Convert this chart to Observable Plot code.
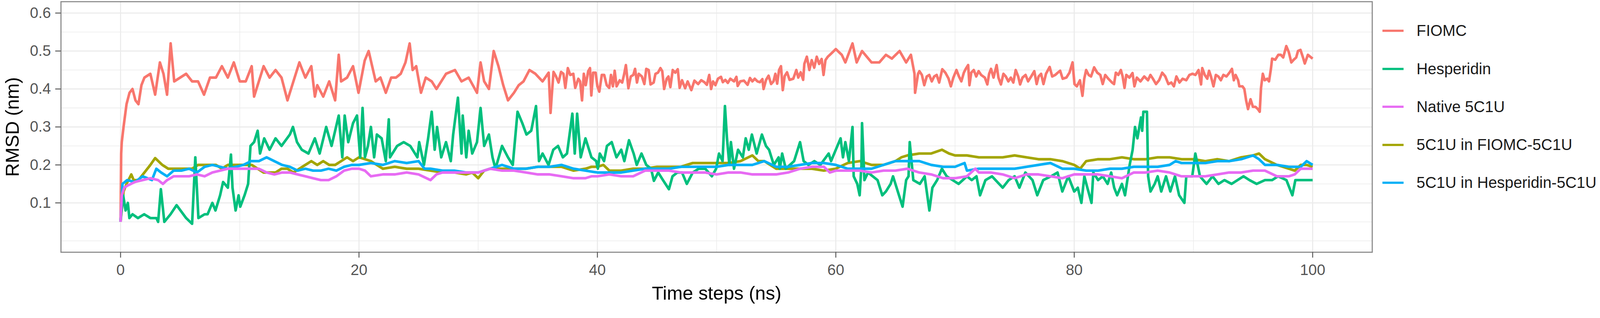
<!DOCTYPE html>
<html><head><meta charset="utf-8">
<script src="https://cdn.jsdelivr.net/npm/d3@7"></script>
<script src="https://cdn.jsdelivr.net/npm/@observablehq/plot@0.6"></script>
<style>
html,body{margin:0;padding:0;background:#fff;overflow:hidden;}
#wrap{position:relative;width:4317px;height:814px;font-family:"Liberation Sans",Arial,sans-serif;background:#fff;transform-origin:0 0;}
#wrap svg{display:block;max-width:none;}
#legend{position:absolute;left:3730px;top:0;}
.item{position:absolute;left:0;height:0;white-space:nowrap}
.key{position:absolute;left:0;width:57px;height:6px;top:-3px}
.lab{position:absolute;left:92px;top:-25px;font-size:42px;color:#1a1a1a;line-height:50px}
[aria-label="x-axis label"] text,[aria-label="y-axis label"] text{fill:#000;font-size:51px}
</style>
</head><body>
<div id="wrap"><div id="legend"></div></div>
<script>
// ---------- data ----------
const seriesNames = ["FIOMC","5C1U in FIOMC-5C1U","Hesperidin","5C1U in Hesperidin-5C1U","Native 5C1U"];
const legendOrder = ["FIOMC","Hesperidin","Native 5C1U","5C1U in FIOMC-5C1U","5C1U in Hesperidin-5C1U"];
const seriesColors = ["#F8766D","#A3A500","#00BF7D","#00B0F6","#E76BF3"];
const xMajor = [0,20,40,60,80,100];
const xMinor = [10,30,50,70,90];
const yMajor = [0.1,0.2,0.3,0.4,0.5,0.6];
const yMinor = [0,0.05,0.15,0.25,0.35,0.45,0.55];

const fiomc = [[0,0.05],[0.05,0.23],[0.1,0.26],[0.25,0.30],[0.5,0.36],[0.75,0.39],[1,0.40],[1.25,0.37],[1.5,0.36],[1.75,0.41],[2,0.43],[2.5,0.44],[2.9,0.385],[3.3,0.47],[3.6,0.44],[3.9,0.385],[4.2,0.52],[4.5,0.42],[5,0.43],[5.5,0.44],[6,0.42],[6.5,0.42],[7,0.385],[7.5,0.43],[8,0.43],[8.5,0.46],[9,0.43],[9.5,0.47],[10,0.42],[10.5,0.42],[11,0.46],[11.2,0.38],[11.5,0.41],[12,0.46],[12.5,0.43],[13,0.45],[13.5,0.43],[14,0.37],[14.5,0.42],[15,0.47],[15.5,0.43],[16,0.46],[16.3,0.38],[16.5,0.41],[17,0.38],[17.5,0.42],[18,0.37],[18.3,0.49],[18.5,0.42],[19,0.43],[19.5,0.46],[19.96,0.39],
[20.48,0.475],[20.81,0.50],[21.4,0.42],[21.8,0.43],[22.25,0.39],[22.7,0.43],[23.1,0.43],[23.5,0.44],[23.9,0.47],[24.25,0.52],[24.5,0.45],[24.8,0.46],[25.2,0.39],[25.6,0.43],[26.1,0.42],[26.5,0.40],[27.3,0.44],[28.05,0.45],[28.6,0.42],[29.2,0.43],[29.9,0.39],[30.2,0.47],[30.5,0.42],[30.9,0.40],[31.3,0.50],[31.7,0.46],[32.1,0.41],[32.5,0.37],[33.0,0.39],[33.4,0.41],[33.8,0.42],[34.3,0.45],[34.8,0.44],[35.4,0.42],
[35.91,0.443],[36.07,0.337],[36.17,0.383],[36.32,0.445],[36.53,0.433],[36.74,0.417],[36.95,0.445],[37.15,0.44],[37.31,0.403],[37.52,0.455],[37.72,0.437],[37.98,0.44],[38.14,0.403],[38.4,0.427],[38.55,0.42],[38.71,0.37],[38.86,0.44],[39.02,0.41],[39.23,0.447],[39.38,0.455],[39.49,0.383],[39.64,0.443],[39.85,0.443],[40.0,0.407],[40.16,0.393],[40.37,0.437],[40.57,0.437],[40.78,0.41],[40.99,0.403],[41.14,0.437],[41.3,0.407],[41.45,0.448],[41.61,0.407],[41.87,0.423],[42.08,0.417],[42.23,0.437],[42.39,0.463],[42.6,0.402],[42.8,0.433],[43.01,0.437],[43.16,0.453],[43.32,0.417],[43.47,0.44],[43.73,0.433],[43.94,0.413],[44.1,0.453],[44.3,0.45],[44.46,0.412],[44.72,0.417],[44.87,0.44],[45.08,0.443],[45.29,0.455],[45.44,0.447],[45.6,0.40],[45.81,0.427],[45.96,0.433],[46.12,0.405],[46.32,0.45],[46.53,0.443],[46.74,0.452],[46.9,0.403],[47.1,0.423],[47.36,0.402],[47.57,0.42],[47.88,0.397],[48.14,0.422],[48.45,0.413],[48.71,0.423],
[48.97,0.418],[49.18,0.411],[49.38,0.437],[49.54,0.40],[49.7,0.42],[49.9,0.41],[50.11,0.427],[50.37,0.432],[50.52,0.418],[50.73,0.424],[50.94,0.416],[51.15,0.427],[51.46,0.42],[51.66,0.432],[51.77,0.408],[51.98,0.42],[52.29,0.422],[52.6,0.411],[52.8,0.429],[53.0,0.42],[53.2,0.427],[53.43,0.42],[53.63,0.418],[53.84,0.426],[53.94,0.40],[54.15,0.424],[54.36,0.435],[54.57,0.413],[54.77,0.42],[54.93,0.44],[55.08,0.414],[55.24,0.45],[55.4,0.46],[55.55,0.397],[55.71,0.434],[55.91,0.444],[56.12,0.424],[56.43,0.427],[56.69,0.45],[56.85,0.43],[57.05,0.444],[57.26,0.424],[57.36,0.466],[57.57,0.485],[57.78,0.45],[57.98,0.476],[58.19,0.456],[58.4,0.485],[58.6,0.466],[58.81,0.479],[58.97,0.437],[59.13,0.476],[59.33,0.485],[59.5,0.49],[60.0,0.505],
[60.5,0.49],[60.8,0.47],[61.4,0.52],[61.75,0.47],[62.2,0.50],[63.0,0.47],[63.65,0.47],[64.2,0.49],[64.7,0.48],[65.35,0.50],[65.9,0.47],[66.3,0.49],[66.6,0.44],[66.65,0.39],[66.9,0.44],
[67.01,0.447],[67.22,0.437],[67.42,0.41],[67.63,0.433],[67.84,0.437],[68.05,0.42],[68.25,0.433],[68.46,0.437],[68.67,0.417],[68.93,0.452],[69.19,0.443],[69.45,0.428],[69.65,0.407],[69.86,0.43],[70.12,0.45],[70.33,0.433],[70.53,0.42],[70.74,0.443],[70.9,0.453],[71.1,0.463],[71.21,0.41],[71.36,0.443],[71.57,0.45],[71.78,0.433],[71.98,0.447],[72.19,0.437],[72.5,0.43],[72.71,0.412],[72.86,0.44],[73.02,0.453],[73.23,0.43],[73.49,0.463],[73.64,0.43],[73.85,0.412],[74.06,0.44],[74.26,0.433],[74.47,0.42],[74.68,0.43],[74.89,0.417],[75.09,0.45],[75.3,0.433],[75.46,0.412],[75.66,0.43],[75.92,0.437],[76.13,0.42],[76.39,0.433],[76.65,0.447],[76.85,0.413],[77.01,0.433],[77.22,0.44],[77.42,0.413],[77.63,0.44],[77.94,0.458],[78.15,0.433],[78.41,0.437],[78.62,0.443],[78.82,0.448],[79.03,0.427],[79.34,0.43],[79.6,0.443],[79.86,0.47],[80.02,0.413],[80.22,0.407],[80.48,0.423],[80.69,0.382],[80.84,0.427],[81.0,0.45],[81.21,0.437],[81.41,0.433],[81.67,0.457],[81.93,0.443],[82.19,0.437],[82.39,0.413],[82.6,0.437],[82.86,0.427],[83.17,0.417],
[83.34,0.413],[83.49,0.443],[83.7,0.437],[83.91,0.45],[84.06,0.433],[84.22,0.403],[84.37,0.437],[84.63,0.43],[84.89,0.442],[85.05,0.407],[85.25,0.43],[85.56,0.42],[85.87,0.433],[86.19,0.423],[86.39,0.437],[86.6,0.427],[86.86,0.413],[87.12,0.423],[87.38,0.443],[87.64,0.433],[87.9,0.413],[88.15,0.417],[88.36,0.407],[88.57,0.433],[88.83,0.417],[89.09,0.427],[89.4,0.423],[89.66,0.437],[89.92,0.44],[90.17,0.437],[90.43,0.45],[90.64,0.412],[90.74,0.455],[90.95,0.437],[91.16,0.427],[91.31,0.448],[91.47,0.433],[91.68,0.407],[91.88,0.437],[92.09,0.433],[92.3,0.423],[92.51,0.437],[92.77,0.433],[93.02,0.443],[93.23,0.453],[93.39,0.423],[93.54,0.437],[93.75,0.423],[93.85,0.407],[94.11,0.407],[94.27,0.40],[94.42,0.37],[94.58,0.347],[94.79,0.373],[94.99,0.353],[95.2,0.353],[95.41,0.347],[95.56,0.34],[95.67,0.403],[95.82,0.44],[95.98,0.423],[96.19,0.427],[96.34,0.42],[96.5,0.453],[96.6,0.48],[96.86,0.477],[97.12,0.49],[97.33,0.49],[97.53,0.483],[97.79,0.513],[98.0,0.497],[98.21,0.47],[98.41,0.477],[98.62,0.483],[98.77,0.50],[98.98,0.503],[99.19,0.483],[99.34,0.467],[99.6,0.49],[100,0.48]];

const hesperidin = [[0,0.055],[0.22,0.12],[0.42,0.08],[0.61,0.10],[0.74,0.06],[1.0,0.07],[1.46,0.06],[1.98,0.07],[2.5,0.06],[3.0,0.06],[3.15,0.05],[3.38,0.136],[3.67,0.05],[4.19,0.07],[4.7,0.094],[5.5,0.06],[6.0,0.045],[6.27,0.22],[6.53,0.06],[7.05,0.07],[7.3,0.07],[7.7,0.10],[7.96,0.08],[8.35,0.12],[8.6,0.155],[9.0,0.14],[9.26,0.227],[9.39,0.14],[9.65,0.08],[9.9,0.12],[10.04,0.09],[10.4,0.12],[10.7,0.15],[10.9,0.25],[11.2,0.26],[11.5,0.29],[11.7,0.23],[12.05,0.27],[12.5,0.24],[13.0,0.27],[13.5,0.25],[14.2,0.28],[14.46,0.30],[14.8,0.26],[15.2,0.24],[15.76,0.23],[16.3,0.27],[16.7,0.23],[17.25,0.30],[17.7,0.25],[18.3,0.33],[18.6,0.22],[18.8,0.33],[19.1,0.26],[19.5,0.31],[19.83,0.33],
[20.1,0.22],[20.3,0.35],[20.5,0.22],[20.75,0.25],[21.0,0.30],[21.27,0.22],[21.5,0.28],[21.9,0.27],[22.25,0.21],[22.5,0.32],[22.6,0.22],[23.2,0.25],[23.75,0.26],[24.3,0.25],[24.9,0.22],[25.05,0.26],[25.45,0.20],[25.8,0.27],[26.1,0.34],[26.35,0.24],[26.55,0.30],[26.9,0.22],[27.3,0.26],[27.7,0.21],[27.9,0.28],[28.3,0.377],[28.6,0.23],[28.7,0.33],[29.0,0.22],[29.2,0.29],[29.5,0.23],[29.9,0.26],[30.2,0.35],[30.5,0.25],[30.9,0.28],[31.2,0.22],[31.45,0.19],[32.0,0.25],[32.5,0.22],[32.9,0.20],[33.3,0.34],[33.7,0.31],[34.05,0.28],[34.45,0.29],[34.85,0.355],[35.1,0.21],[35.4,0.23],[35.9,0.20],[36.3,0.24],[36.7,0.25],[37.1,0.22],[37.45,0.23],[37.9,0.335],[38.1,0.23],[38.3,0.335],[38.6,0.22],[39.0,0.27],[39.5,0.22],[39.9,0.21],
[40.04,0.19],[40.2,0.23],[40.56,0.21],[40.8,0.25],[41.2,0.26],[41.6,0.22],[42.0,0.24],[42.26,0.21],[42.65,0.265],[43.04,0.23],[43.3,0.20],[43.7,0.23],[44.1,0.20],[44.5,0.19],[44.74,0.158],[45.1,0.18],[45.5,0.16],[46.0,0.136],[46.3,0.17],[46.7,0.18],[47.1,0.18],[47.5,0.15],[48.0,0.18],[48.5,0.19],[49.05,0.19],[49.6,0.17],[49.96,0.19],[50.2,0.23],[50.5,0.21],[50.7,0.355],[50.87,0.27],[51.07,0.20],[51.2,0.26],[51.46,0.19],[51.8,0.24],[52.2,0.22],[52.44,0.27],[52.7,0.24],[52.96,0.28],[53.36,0.23],[53.8,0.28],[54.14,0.25],[54.4,0.24],[54.8,0.20],[55.2,0.22],[55.3,0.19],[55.5,0.23],[55.8,0.19],[56.5,0.21],[57.0,0.26],[57.3,0.21],[57.7,0.20],[58.2,0.21],[58.7,0.20],[59.4,0.23],[59.6,0.21],[60.0,0.24],
[60.4,0.27],[60.6,0.22],[60.8,0.26],[61.1,0.21],[61.4,0.30],[61.5,0.17],[61.8,0.15],[62.0,0.12],[62.15,0.20],[62.2,0.31],[62.4,0.16],[62.7,0.18],[63.1,0.17],[63.5,0.16],[63.9,0.12],[64.2,0.13],[64.6,0.15],[64.8,0.17],[65.2,0.13],[65.6,0.09],[65.9,0.16],[66.1,0.17],[66.2,0.26],[66.5,0.16],[67.05,0.15],[67.45,0.17],[67.85,0.08],[68.1,0.14],[68.5,0.16],[68.9,0.19],[69.3,0.17],[69.8,0.16],[70.3,0.15],[71.0,0.17],[71.4,0.16],[71.8,0.17],[72.1,0.12],[72.55,0.16],[73.1,0.17],[73.7,0.15],[74.0,0.14],[74.5,0.16],[75.0,0.17],[75.4,0.14],[75.9,0.18],[76.5,0.16],[76.9,0.12],[77.4,0.16],[78.05,0.17],[78.6,0.18],[79.0,0.13],[79.5,0.17],[80.0,0.13],
[80.3,0.14],[80.6,0.10],[80.85,0.17],[81.1,0.14],[81.45,0.10],[81.6,0.18],[82.0,0.16],[82.4,0.17],[82.8,0.15],[83.1,0.18],[83.35,0.14],[83.6,0.12],[84.0,0.15],[84.26,0.12],[84.65,0.20],[84.9,0.24],[85.1,0.30],[85.3,0.27],[85.6,0.325],[85.7,0.29],[85.8,0.34],[86.1,0.34],[86.2,0.17],[86.4,0.13],[86.75,0.15],[87.0,0.17],[87.3,0.13],[87.7,0.17],[88.06,0.13],[88.45,0.17],[88.8,0.12],[89.24,0.10],[89.4,0.17],[89.9,0.17],[90.16,0.23],[90.55,0.17],[91.1,0.15],[91.6,0.17],[92.1,0.15],[92.6,0.16],[93.2,0.15],[93.7,0.16],[94.2,0.17],[94.7,0.16],[95.3,0.15],[96.0,0.16],[96.6,0.16],[97.1,0.17],[97.8,0.16],[98.3,0.12],[98.55,0.16],[99.1,0.16],[99.6,0.16],[100.0,0.16]];

const native5c1u = [[0,0.05],[0.1,0.12],[0.3,0.14],[0.55,0.145],[1.2,0.155],[1.85,0.16],[2.5,0.165],[3.15,0.16],[3.55,0.15],[3.9,0.16],[4.45,0.17],[5.1,0.17],[5.75,0.17],[6.4,0.175],[7.05,0.17],[7.7,0.18],[8.35,0.185],[9.0,0.19],[9.65,0.19],[10.3,0.19],[10.95,0.19],[11.6,0.19],[12.25,0.18],[12.9,0.175],[13.55,0.18],[14.2,0.18],[14.85,0.175],[15.5,0.17],[16.15,0.165],[16.8,0.16],[17.45,0.16],[18.1,0.17],[18.75,0.185],[19.4,0.19],
[20,0.19],[20.5,0.185],[21,0.17],[22,0.175],[23,0.175],[24,0.18],[25,0.175],[26,0.16],[26.5,0.175],[27,0.18],[28,0.18],[29,0.18],[30,0.18],[31,0.19],[32,0.185],[33,0.185],[34,0.18],[35,0.175],[36,0.175],[37,0.17],[38,0.165],[39,0.165],[39.5,0.17],[40,0.17],
[41,0.175],[42,0.17],[43,0.17],[44,0.185],[45,0.185],[46,0.185],[47,0.18],[48,0.18],[49,0.18],[50,0.175],[51,0.18],[52,0.18],[53,0.175],[54,0.175],[55,0.175],[56,0.18],[57,0.19],[58,0.195],[59,0.195],[59.5,0.18],[60,0.185],
[61,0.185],[62,0.185],[63,0.18],[64,0.185],[65,0.185],[66,0.19],[67,0.18],[68,0.175],[69,0.165],[70,0.165],[71,0.17],[71.7,0.19],[72,0.18],[73,0.18],[74,0.175],[75,0.165],[76,0.175],[77,0.175],[78,0.17],[79,0.165],[80,0.175],
[81,0.175],[82,0.175],[83,0.17],[84,0.165],[85,0.18],[86,0.18],[87,0.185],[88,0.18],[89,0.17],[90,0.17],[91,0.17],[92,0.175],[93,0.18],[94,0.18],[95,0.185],[96,0.185],[97,0.17],[98,0.17],[98.5,0.175],[99,0.19],[100,0.19]];

const inFiomc = [[0,0.05],[0.25,0.13],[0.5,0.15],[0.9,0.175],[1.1,0.16],[1.5,0.16],[2,0.18],[2.5,0.20],[2.9,0.218],[3.5,0.20],[4,0.19],[4.5,0.19],[5,0.19],[5.5,0.19],[6,0.19],[6.5,0.20],[7,0.20],[7.5,0.20],[8,0.20],[8.5,0.19],[9,0.20],[9.5,0.20],[10,0.20],[10.5,0.20],[11,0.20],[11.5,0.19],[12,0.18],[12.5,0.18],[13,0.18],[13.5,0.19],[14,0.19],[14.5,0.18],[15,0.19],[15.5,0.20],[16,0.21],[16.5,0.20],[17,0.21],[17.5,0.20],[18,0.20],[18.5,0.21],[19,0.22],[19.5,0.21],
[20,0.22],[21,0.21],[22,0.19],[23,0.195],[24,0.19],[25,0.19],[26,0.185],[27,0.18],[28,0.18],[29,0.175],[29.5,0.18],[30,0.165],[30.5,0.185],[31,0.19],[32,0.19],[33,0.19],[34,0.19],[35,0.195],[36,0.195],[37,0.195],[38,0.185],[39,0.19],[39.5,0.195],
[40,0.195],[40.5,0.20],[41,0.185],[42,0.185],[43,0.19],[44,0.19],[45,0.195],[46,0.195],[47,0.195],[48,0.205],[49,0.205],[50,0.205],[51,0.205],[52,0.21],[53,0.225],[53.5,0.21],[54,0.21],[55,0.19],[56,0.19],[57,0.19],[58,0.19],[59,0.185],[60,0.19],
[61,0.205],[62,0.21],[63,0.20],[64,0.20],[65,0.21],[65.5,0.22],[66,0.225],[67,0.23],[68,0.23],[68.9,0.24],[69.5,0.23],[70,0.225],[71,0.225],[72,0.22],[73,0.22],[74,0.22],[75,0.225],[76,0.22],[77,0.215],[78,0.215],[79,0.21],[80,0.20],
[80.5,0.19],[81,0.21],[82,0.215],[83,0.215],[84,0.22],[85,0.215],[86,0.215],[87,0.22],[88,0.22],[89,0.215],[90,0.215],[91,0.21],[92,0.215],[93,0.21],[94,0.22],[95,0.225],[95.5,0.23],[96,0.215],[97,0.20],[98,0.19],[98.5,0.185],[99,0.20],[99.5,0.20],[100,0.195]];

const inHesperidin = [[0,0.05],[0.16,0.15],[0.55,0.16],[1.2,0.155],[1.85,0.17],[2.24,0.165],[2.63,0.16],[3.0,0.19],[3.4,0.18],[3.9,0.17],[4.45,0.185],[5.1,0.185],[5.75,0.19],[6.4,0.18],[7.05,0.195],[7.7,0.20],[8.35,0.195],[9.0,0.19],[9.65,0.195],[10.3,0.20],[10.95,0.21],[11.6,0.21],[12.25,0.22],[12.9,0.21],[13.55,0.20],[14.2,0.195],[14.85,0.185],[15.5,0.19],[16.15,0.185],[16.8,0.185],[17.45,0.19],[18.1,0.185],[18.75,0.195],[19.4,0.20],
[20,0.20],[21,0.205],[22,0.20],[23,0.21],[24,0.205],[25,0.21],[25.5,0.19],[26,0.19],[27,0.185],[28,0.185],[29,0.18],[30,0.18],[31,0.19],[32,0.20],[33,0.19],[34,0.19],[35,0.195],[36,0.195],[37,0.20],[38,0.19],[39,0.185],
[40,0.18],[41,0.18],[42,0.18],[43,0.185],[44,0.19],[45,0.19],[46,0.19],[47,0.195],[48,0.195],[49,0.195],[50,0.195],[51,0.20],[52,0.20],[53,0.20],[54,0.21],[55,0.195],[56,0.195],[57,0.20],[58,0.205],[59,0.205],[60,0.20],
[61,0.19],[62,0.19],[63,0.19],[64,0.20],[65,0.21],[66,0.21],[67,0.21],[68,0.20],[69,0.195],[70,0.195],[70.8,0.205],[71,0.185],[72,0.19],[73,0.19],[74,0.19],[75,0.19],[76,0.195],[77,0.20],[78,0.205],[79,0.19],[80,0.19],
[81,0.185],[82,0.185],[83,0.19],[84,0.19],[85,0.195],[86,0.195],[87,0.195],[88,0.20],[88.5,0.21],[89,0.205],[90,0.205],[91,0.205],[92,0.21],[93,0.21],[94,0.215],[95,0.225],[95.5,0.215],[96,0.20],[97,0.20],[98,0.195],[99,0.195],[99.5,0.21],[100,0.20]];

const seriesData = {
  "FIOMC": fiomc,
  "5C1U in FIOMC-5C1U": inFiomc,
  "Hesperidin": hesperidin,
  "5C1U in Hesperidin-5C1U": inHesperidin,
  "Native 5C1U": native5c1u
};

// ---------- build ----------
const rows = seriesNames.flatMap(name => seriesData[name].map(([t, v]) => ({series: name, t, v})));
const grid = {stroke: "#EBEBEB", strokeOpacity: 1};

const chart = Plot.plot({
  width: 4317, height: 814,
  marginLeft: 164, marginRight: 615, marginTop: 4, marginBottom: 134,
  style: {fontFamily: "Liberation Sans, Arial, sans-serif", background: "white", overflow: "visible"},
  x: {domain: [-5, 105]},
  y: {domain: [-0.03, 0.63]},
  color: {domain: seriesNames, range: seriesColors},
  marks: [
    Plot.gridX(xMinor, {...grid, strokeWidth: 1.6}),
    Plot.gridY(yMinor, {...grid, strokeWidth: 1.6}),
    Plot.gridX(xMajor, {...grid, strokeWidth: 3}),
    Plot.gridY(yMajor, {...grid, strokeWidth: 3}),
    Plot.line(rows, {x: "t", y: "v", z: "series", stroke: "series", strokeWidth: 7, strokeLinejoin: "round", strokeLinecap: "butt"}),
    Plot.frame({stroke: "#8a8a8a", strokeWidth: 3}),
    Plot.axisX({ticks: xMajor, tickSize: 15, tickPadding: 17, fontSize: 41, stroke: "#555", strokeWidth: 2.5, fill: "#555",
      tickFormat: d => String(d), label: "Time steps (ns)", labelAnchor: "center", labelArrow: "none", labelOffset: 128}),
    Plot.axisY({ticks: yMajor, tickSize: 15, tickPadding: 12, fontSize: 41, stroke: "#555", strokeWidth: 2.5, fill: "#555",
      tickFormat: d3.format(".1f"), label: "RMSD (nm)", labelAnchor: "center", labelArrow: "none", labelOffset: 150})
  ]
});
const wrap = document.getElementById("wrap");
wrap.prepend(chart);

// legend
const legend = document.getElementById("legend");
legendOrder.forEach((name, i) => {
  const item = document.createElement("div");
  item.className = "item";
  item.style.top = (83 + i * 102.5) + "px";
  const key = document.createElement("div");
  key.className = "key";
  key.style.background = seriesColors[seriesNames.indexOf(name)];
  const lab = document.createElement("div");
  lab.className = "lab";
  lab.textContent = name;
  item.append(key, lab);
  legend.append(item);
});

// fit the 4317x814 layout into the actual viewport
function fit() {
  const vw = document.documentElement.clientWidth || window.innerWidth;
  const vh = document.documentElement.clientHeight || window.innerHeight;
  const s = Math.min(vw / 4317, vh / 814);
  wrap.style.transform = "scale(" + s + ")";
}
fit();
window.addEventListener("resize", fit);
</script>
</body></html>
